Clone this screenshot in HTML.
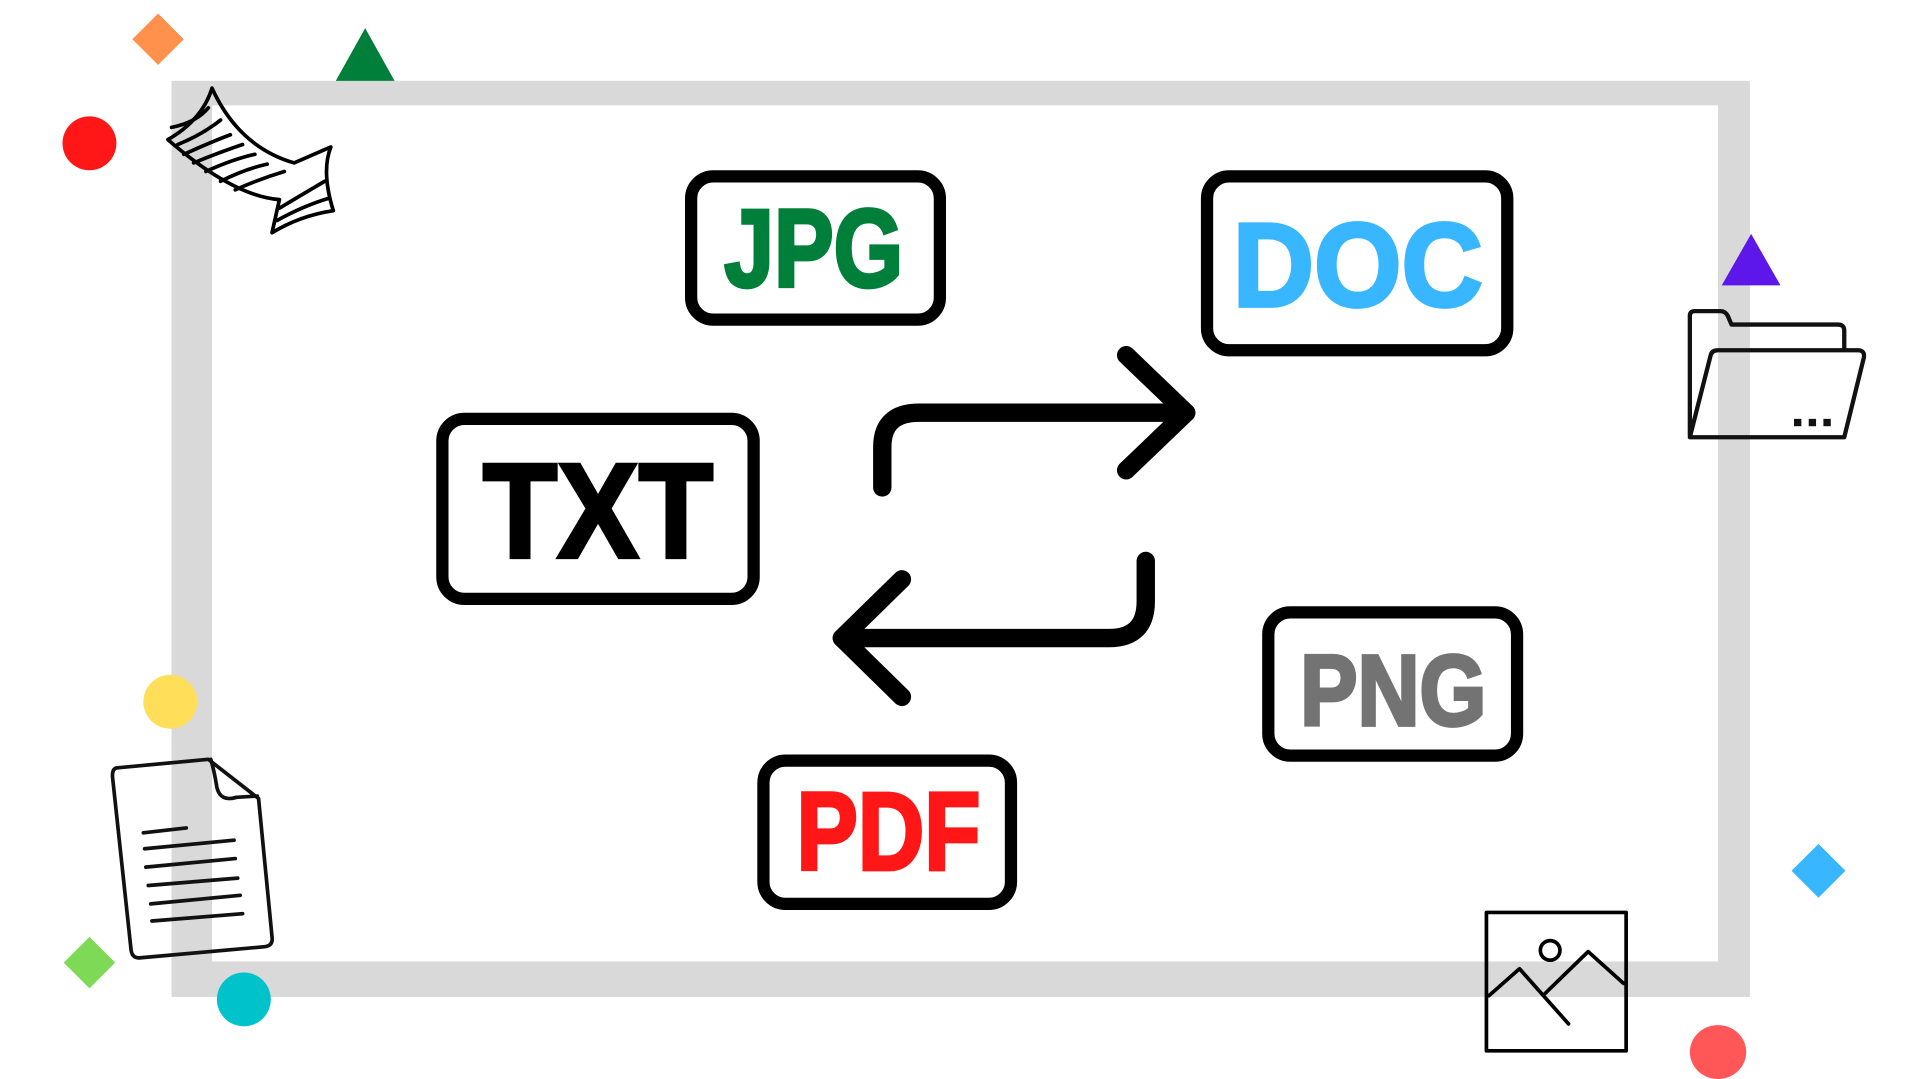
<!DOCTYPE html>
<html><head><meta charset="utf-8"><style>
html,body{margin:0;padding:0;background:#fff;overflow:hidden}
svg{display:block}
text{font-family:"Liberation Sans",sans-serif;font-weight:bold}
</style></head><body>
<svg width="1919" height="1079" viewBox="0 0 1566 881" preserveAspectRatio="none" xmlns="http://www.w3.org/2000/svg">
<rect x="0" y="0" width="1566" height="881" fill="#fff"/>
<rect x="140" y="66" width="1288" height="748" fill="#d9d9d9"/>
<rect x="173" y="86" width="1229" height="699" fill="#fff"/>

<polygon points="129,11 150,32 129,53 108,32" fill="#FF914D"/>
<polygon points="298,23 322,66 274,66" fill="#007F3A"/>
<circle cx="73" cy="117" r="22" fill="#FF1616"/>
<circle cx="139" cy="573" r="22" fill="#FFDE59"/>
<circle cx="199" cy="816" r="22" fill="#00C2CB"/>
<polygon points="73,765 94,786 73,807 52,786" fill="#7ED957"/>
<polygon points="1429,191 1453,233 1405,233" fill="#5E17EB"/>
<polygon points="1484,689 1506,711 1484,733 1462,711" fill="#38B6FF"/>
<ellipse cx="1402" cy="859" rx="23" ry="22" fill="#FF5757"/>

<g fill="none" stroke="#000" stroke-width="10">
<rect x="564" y="144" width="203" height="117" rx="18"/>
<rect x="985" y="144" width="245" height="142" rx="18"/>
<rect x="361" y="342" width="254" height="147" rx="18"/>
<rect x="1035" y="500" width="203" height="117" rx="18"/>
<rect x="623" y="621" width="202" height="117" rx="18"/>
</g>
<text x="664" y="234" font-size="90" fill="#007F3A" stroke="#007F3A" stroke-width="3" text-anchor="middle" textLength="146" lengthAdjust="spacingAndGlyphs">JPG</text>
<text x="1108" y="250" font-size="97" fill="#38B6FF" stroke="#38B6FF" stroke-width="3" text-anchor="middle" textLength="204" lengthAdjust="spacingAndGlyphs">DOC</text>
<text x="488" y="455" font-size="110" fill="#000" stroke="#000" stroke-width="3" text-anchor="middle" textLength="188" lengthAdjust="spacingAndGlyphs">TXT</text>
<text x="1137" y="592" font-size="82" fill="#737373" stroke="#737373" stroke-width="3" text-anchor="middle" textLength="152" lengthAdjust="spacingAndGlyphs">PNG</text>
<text x="725" y="710" font-size="90" fill="#FF1616" stroke="#FF1616" stroke-width="3" text-anchor="middle" textLength="150" lengthAdjust="spacingAndGlyphs">PDF</text>

<g fill="none" stroke="#000" stroke-width="15" stroke-linecap="round" stroke-linejoin="round">
<path d="M720,398 L720,365 Q720,337 750,337 L968,337"/>
<path d="M919,290 L968,337 L919,384"/>
<path d="M935,458 L935,491 Q935,521 905,521 L687,521"/>
<path d="M736,473 L687,521 L736,569"/>
</g>

<g fill="none" stroke="#111" stroke-width="3.5" stroke-linejoin="round">
<path d="M1379,356 L1379,258 Q1379,254 1383,254 L1404,254 Q1408,254 1410,258 L1413,265 L1500,265 Q1505,265 1505,270 L1505,285"/>
<path d="M1379,357 L1396,290 Q1397,286 1402,286 L1516,286 Q1522,286 1521,292 L1505,357 Z"/>
</g>
<rect x="1464" y="342" width="6" height="6" fill="#111"/>
<rect x="1476" y="342" width="6" height="6" fill="#111"/>
<rect x="1488" y="342" width="6" height="6" fill="#111"/>

<g fill="none" stroke="#000" stroke-width="3" stroke-linecap="round" stroke-linejoin="round">
<rect x="1213" y="745" width="114" height="113"/>
<path d="M1215,813 L1240,791 L1280,836"/>
<path d="M1261,811 L1296,777 L1325,803"/>
<circle cx="1265" cy="776" r="8"/>
</g>

<g fill="none" stroke="#111" stroke-width="3" stroke-linecap="round" stroke-linejoin="round">
<path d="M95,627 L170,620 L211,652 L222,765 Q223,772 216,773 L115,782 Q108,783 107,776 L92,636 Q91,628 95,627 Z"/>
<path d="M172,620 Q175,630 177,643 Q180,655 193,651 L210,650"/>
<path d="M117,680 L152,676"/><path d="M118,693 L191,686"/><path d="M119,708 L192,701"/>
<path d="M121,723 L194,717"/><path d="M123,738 L196,731"/><path d="M124,752 L198,746"/>
</g>

<g fill="none" stroke="#000" stroke-width="3" stroke-linecap="round" stroke-linejoin="round">
<path d="M173,72 Q195,120 240,133 L270,120 Q262,140 272,172 Q245,176 222,190 L228,163 Q190,160 137,114 Q165,98 173,72 Z"/>
<path d="M140,104 Q160,100 170,88"/>
<path d="M145,118 Q165,110 180,98"/>
<path d="M150,126 Q172,116 188,110"/>
<path d="M158,133 Q180,124 198,118"/>
<path d="M168,140 Q190,130 208,126"/>
<path d="M180,148 Q200,138 218,134"/>
<path d="M192,155 Q212,146 232,140"/>
<path d="M228,170 Q248,158 265,148"/>
<path d="M226,180 Q248,168 268,162"/>
</g>
</svg>
</body></html>
